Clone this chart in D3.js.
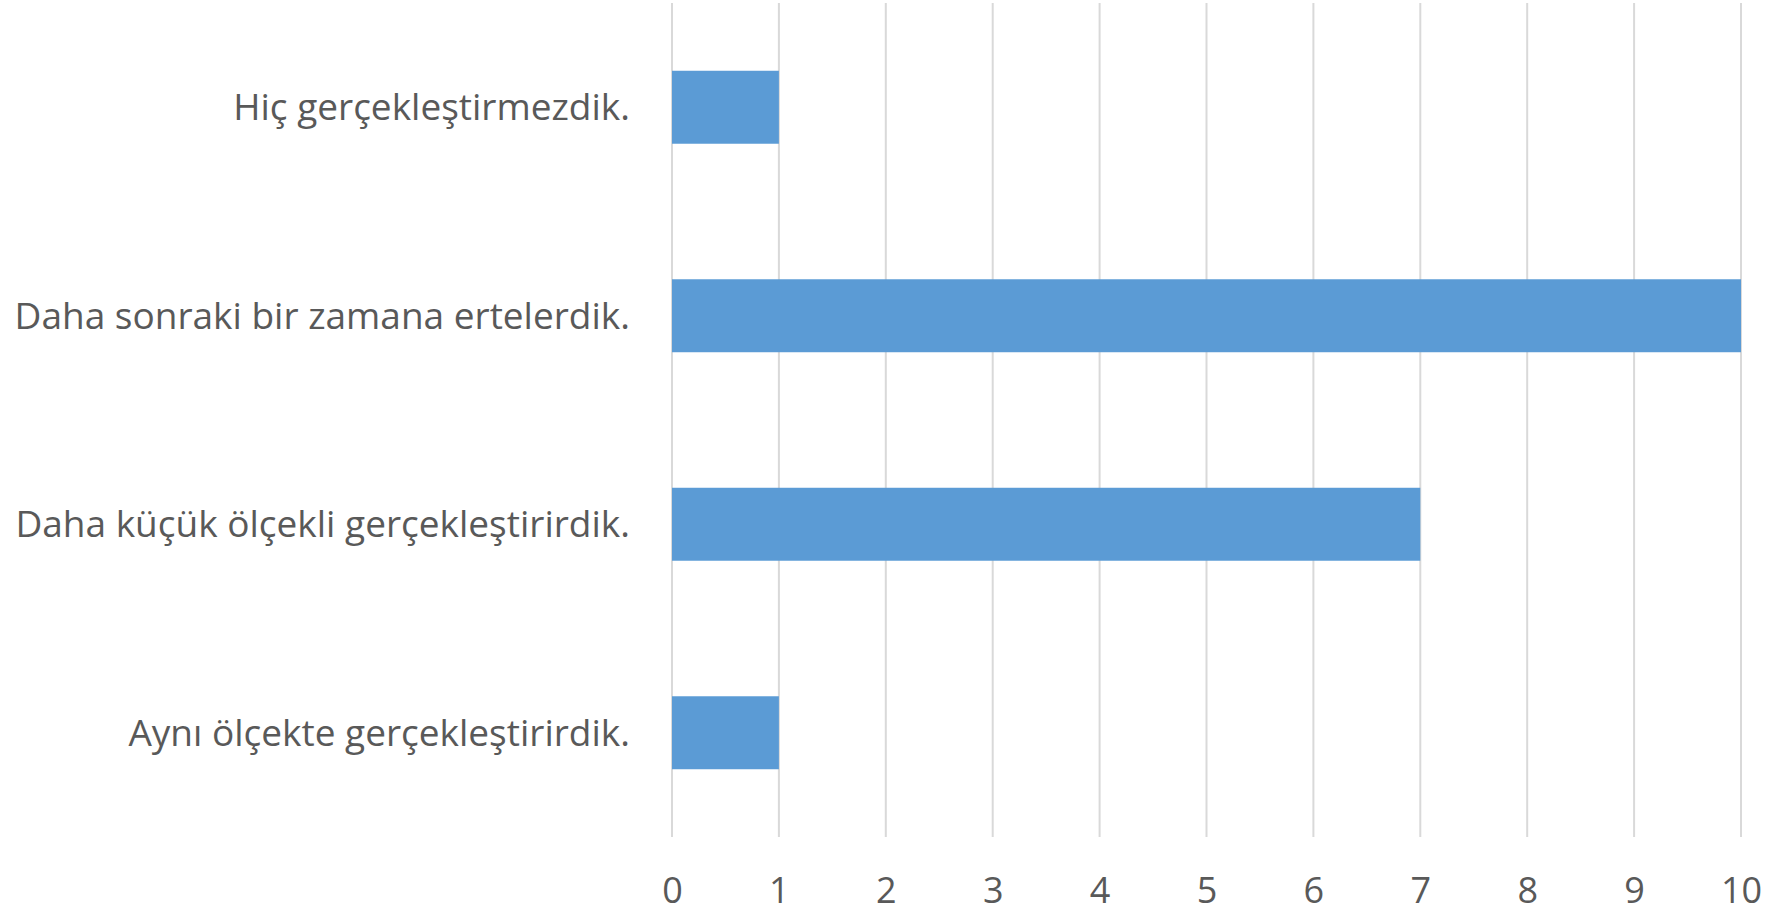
<!DOCTYPE html>
<html>
<head>
<meta charset="utf-8">
<script src="https://cdn.jsdelivr.net/npm/d3@7"></script>
<style>
  body { margin: 0; background: #fff; }
  svg { display: block; }
</style>
</head>
<body>
<div id="chart"></div>
<script>
// Data, top to bottom
const categories = [
  "Hiç gerçekleştirmezdik.",
  "Daha sonraki bir zamana ertelerdik.",
  "Daha küçük ölçekli gerçekleştirirdik.",
  "Aynı ölçekte gerçekleştirirdik."
];
const values = [1, 10, 7, 1];
const tickValues = [0, 1, 2, 3, 4, 5, 6, 7, 8, 9, 10];

const data = categories.map((c, i) => ({ category: c, value: values[i] }));

const totalW = 1774, totalH = 913;
const margin = { top: 3, right: 33, bottom: 76, left: 672 };
const width = totalW - margin.left - margin.right,
      height = totalH - margin.top - margin.bottom;

const svg = d3.select("#chart")
  .append("svg")
  .attr("width", totalW)
  .attr("height", totalH)
  .append("g")
  .attr("transform", "translate(" + margin.left + "," + margin.top + ")");

// X scale
const x = d3.scaleLinear()
  .domain([0, 10])
  .range([0, width]);

// Y band scale
const y = d3.scaleBand()
  .domain(categories)
  .range([0, height])
  .paddingInner(0.65)
  .paddingOuter(0.325);

// Vertical gridlines
svg.append("g")
  .selectAll("line")
  .data(tickValues)
  .enter()
  .append("line")
    .attr("x1", d => x(d))
    .attr("x2", d => x(d))
    .attr("y1", 0)
    .attr("y2", height)
    .attr("stroke", "#d9d9d9")
    .attr("stroke-width", 2);

// Bars
svg.selectAll("rect.bar")
  .data(data)
  .enter()
  .append("rect")
    .attr("class", "bar")
    .attr("x", x(0))
    .attr("y", d => y(d.category))
    .attr("width", d => x(d.value) - x(0))
    .attr("height", y.bandwidth())
    .attr("fill", "#5b9bd5");

// X axis labels
const xAxis = svg.append("g")
  .attr("transform", "translate(0," + height + ")")
  .call(d3.axisBottom(x).tickValues(tickValues).tickSize(0).tickPadding(40));
xAxis.select(".domain").remove();
xAxis.selectAll("text")
  .attr("fill", "#595959")
  .style("font-family", "'Open Sans', sans-serif")
  .style("font-size", "36px");

// Y axis labels
const yAxis = svg.append("g")
  .call(d3.axisLeft(y).tickSize(0).tickPadding(42));
yAxis.select(".domain").remove();
const yLabels = yAxis.selectAll("text")
  .attr("fill", "#595959")
  .attr("dy", "0.35em")
  .style("font-family", "'Open Sans', sans-serif")
  .style("font-size", "37px");

// Squeeze labels a little so the longest one fits the left room (Calibri is narrower)
const room = margin.left - 42 - 14;
let longest = 0;
yLabels.each(function() { longest = Math.max(longest, this.getComputedTextLength()); });
if (longest > room) {
  const k = room / longest;
  yLabels.each(function() {
    d3.select(this)
      .attr("textLength", this.getComputedTextLength() * k)
      .attr("lengthAdjust", "spacingAndGlyphs");
  });
}
</script>
</body>
</html>
